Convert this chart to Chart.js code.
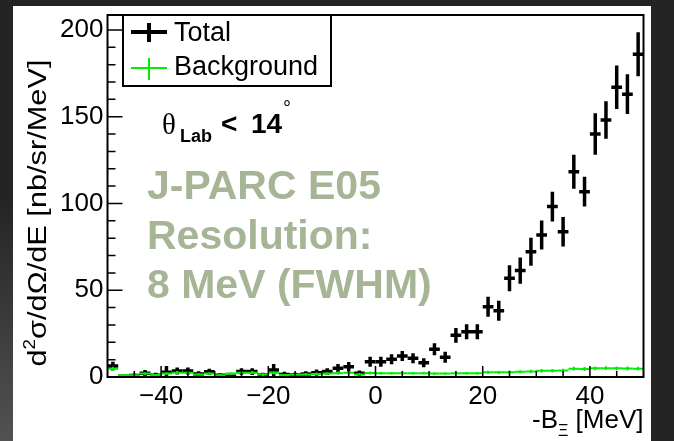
<!DOCTYPE html>
<html>
<head>
<meta charset="utf-8">
<script src="https://cdn.jsdelivr.net/npm/chart.js@4.4.1/dist/chart.umd.min.js"></script>
<style>
  html, body { margin: 0; padding: 0; width: 674px; height: 441px; overflow: hidden; background: #242424; }
  #strip { position: absolute; left: 0; top: 0; width: 13px; height: 441px; background: linear-gradient(#242424 45%, #525252); }
  #sheet { position: absolute; left: 13px; top: 6px; width: 638px; height: 435px; background: #fff; }
  #plot { position: absolute; left: 0; top: 0; }
</style>
</head>
<body>
<div id="strip"></div>
<div id="sheet"></div>
<canvas id="plot" width="674" height="441"></canvas>
<script>
// 2 MeV bins from -50 to 50
const binCenters = [-49, -47, -45, -43, -41, -39, -37, -35, -33, -31, -29, -27, -25, -23, -21, -19, -17, -15, -13, -11, -9, -7, -5, -3, -1,
                    1, 3, 5, 7, 9, 11, 13, 15, 17, 19, 21, 23, 25, 27, 29, 31, 33, 35, 37, 39, 41, 43, 45, 47, 49];
const binHalfWidth = 1;

// total spectrum (nb/sr/MeV) and its errors
const totalValues = [6.3, 0.5, 0.8, 2.2, 1.0, 2.8, 3.5, 3.5, 1.8, 3.0, 1.0, 0.5, 3.1, 3.1, 1.2, 4.0, 1.5, 1.2, 1.8, 2.5, 3.1, 5.0, 5.9, 2.1, 8.8,
                     8.8, 10.2, 12.1, 10.8, 8.2, 16.0, 11.4, 24.0, 26.1, 26.1, 40.5, 38.2, 56.9, 61.3, 72.2, 81.8, 98.2, 83.7, 118.3, 106.8, 140.0, 148.1, 167.0, 163.0, 186.0];
const totalErrors = [2.5, 1.0, 1.2, 1.8, 1.5, 3.5, 2.0, 2.0, 1.5, 1.8, 1.2, 1.0, 2.0, 2.0, 1.2, 3.5, 1.5, 1.2, 1.5, 1.8, 2.0, 2.5, 2.8, 1.6, 2.9,
                     2.9, 2.9, 2.9, 2.9, 2.6, 3.5, 3.2, 4.3, 4.3, 4.3, 5.8, 5.8, 7.5, 7.5, 8.1, 8.4, 8.6, 8.5, 9.8, 8.6, 12.0, 10.8, 12.5, 11.5, 12.7];

// background estimate
const bgValues = [4.7, 1.0, 1.0, 2.0, 1.2, 2.0, 2.5, 2.5, 1.5, 2.0, 1.0, 2.0, 2.5, 2.5, 1.4, 2.4, 1.2, 1.3, 1.5, 1.8, 2.0, 2.2, 2.5, 1.5, 2.3,
                  2.1, 2.1, 2.2, 2.1, 2.2, 2.0, 2.0, 2.2, 2.1, 2.1, 2.7, 2.7, 2.8, 3.0, 3.2, 3.6, 3.6, 3.7, 4.8, 4.6, 5.0, 5.1, 5.0, 4.9, 4.8];
const bgErrors = [1.2, 0.7, 0.7, 0.8, 0.7, 0.8, 0.9, 0.9, 0.8, 0.8, 0.7, 0.8, 0.9, 0.9, 0.8, 0.9, 0.7, 0.7, 0.8, 0.8, 0.8, 0.9, 0.9, 0.8, 0.9,
                  0.8, 0.8, 0.8, 0.8, 0.8, 0.8, 0.8, 0.8, 0.8, 0.8, 0.9, 0.9, 0.9, 0.9, 1.0, 1.0, 1.0, 1.0, 1.1, 1.1, 1.1, 1.1, 1.1, 1.1, 1.1];

const xTickValues = [-40, -20, 0, 20, 40];
const yTickValues = [0, 50, 100, 150, 200];

const FONT = "'Liberation Sans', Arial, Helvetica, sans-serif";

function fmtTick(v) {
    return v < 0 ? '\u2212' + Math.abs(v) : String(v);
}

// ROOT style error crosses: horizontal bar over the bin, vertical bar for the error
const errorCrosses = {
    id: 'errorCrosses',
    afterDatasetsDraw(chart) {
        const { ctx, chartArea, scales: { x, y } } = chart;
        ctx.save();
        ctx.beginPath();
        ctx.rect(chartArea.left, chartArea.top, chartArea.right - chartArea.left, chartArea.bottom - chartArea.top);
        ctx.clip();
        chart.data.datasets.forEach((ds, di) => {
            const meta = chart.getDatasetMeta(di);
            ctx.strokeStyle = ds.borderColor;
            ctx.lineWidth = ds.borderWidth;
            ctx.lineCap = 'butt';
            meta.data.forEach((pt, i) => {
                const c = ds.data[i].x;
                const v = ds.data[i].y;
                const e = ds.errors[i];
                const xl = x.getPixelForValue(c - binHalfWidth);
                const xr = x.getPixelForValue(c + binHalfWidth);
                ctx.beginPath();
                ctx.moveTo(xl, pt.y);
                ctx.lineTo(xr, pt.y);
                ctx.moveTo(pt.x, y.getPixelForValue(v + e));
                ctx.lineTo(pt.x, y.getPixelForValue(Math.max(v - e, 0)));
                ctx.stroke();
            });
        });
        ctx.restore();
    }
};

// frame, inward ticks, legend and the text labels
const frameAndText = {
    id: 'frameAndText',
    afterDraw(chart) {
        const { ctx, chartArea: a, scales: { x, y } } = chart;
        ctx.save();

        // ticks on the bottom and left axes
        ctx.strokeStyle = '#000';
        ctx.lineWidth = 1.5;
        ctx.beginPath();
        for (let v = -45; v <= 45; v += 5) {
            const px = x.getPixelForValue(v);
            const len = v % 20 === 0 ? 11 : 6;
            ctx.moveTo(px, a.bottom);
            ctx.lineTo(px, a.bottom - len);
        }
        for (let v = 10; v <= 200; v += 10) {
            const py = y.getPixelForValue(v);
            const len = v % 50 === 0 ? 15 : 8;
            ctx.moveTo(a.left, py);
            ctx.lineTo(a.left + len, py);
        }
        ctx.stroke();

        ctx.lineWidth = 2;
        ctx.strokeRect(a.left, a.top, a.right - a.left, a.bottom - a.top);

        // legend
        ctx.fillStyle = '#fff';
        ctx.fillRect(123, 15, 208, 71);
        ctx.strokeRect(123, 15, 208, 71);
        ctx.strokeStyle = '#000';
        ctx.lineWidth = 4;
        ctx.beginPath();
        ctx.moveTo(131, 32); ctx.lineTo(167, 32);
        ctx.moveTo(149, 23); ctx.lineTo(149, 42);
        ctx.stroke();
        ctx.strokeStyle = '#00ee00';
        ctx.lineWidth = 2;
        ctx.beginPath();
        ctx.moveTo(131, 68); ctx.lineTo(167, 68);
        ctx.moveTo(149, 58); ctx.lineTo(149, 80);
        ctx.stroke();

        ctx.fillStyle = '#000';
        ctx.textAlign = 'left';
        ctx.textBaseline = 'alphabetic';
        ctx.font = `27px ${FONT}`;
        ctx.fillText('Total', 174, 41);
        ctx.fillText('Background', 174, 75);

        // angle cut
        ctx.font = "29px 'Liberation Serif', 'Times New Roman', serif";
        ctx.fillText('\u03b8', 162, 134);
        ctx.font = `bold 18px ${FONT}`;
        ctx.fillText('Lab', 180, 142);
        ctx.font = `bold 28px ${FONT}`;
        ctx.fillText('<', 221, 133);
        ctx.fillText('14', 251, 133);
        ctx.font = `20px ${FONT}`;
        ctx.fillText('\u00b0', 283, 115);

        // experiment note
        ctx.fillStyle = '#a7b597';
        ctx.font = `bold 41px ${FONT}`;
        ctx.fillText('J-PARC E05', 147, 199);
        ctx.fillText('Resolution:', 147, 249);
        ctx.fillText('8 MeV (FWHM)', 147, 298);

        // x axis title, right aligned to the frame
        ctx.fillStyle = '#000';
        ctx.font = `26px ${FONT}`;
        const wB = ctx.measureText('-B').width;
        const wU = ctx.measureText(' [MeV]').width;
        ctx.font = `16px ${FONT}`;
        const wX = ctx.measureText('\u039e').width;
        let tx = a.right - (wB + wX + wU);
        ctx.font = `26px ${FONT}`;
        ctx.fillText('-B', tx, 428);
        tx += wB;
        ctx.font = `16px ${FONT}`;
        ctx.fillText('\u039e', tx, 436);
        tx += wX;
        ctx.font = `26px ${FONT}`;
        ctx.fillText(' [MeV]', tx, 428);

        // y axis title
        ctx.translate(37, 213);
        ctx.rotate(-Math.PI / 2);
        ctx.font = `26px ${FONT}`;
        const w1 = ctx.measureText('d').width;
        const w3 = ctx.measureText('\u03c3/d\u03a9/dE [nb/sr/MeV]').width;
        ctx.font = `16px ${FONT}`;
        const w2 = ctx.measureText('2').width;
        const total = w1 + w2 + w3;
        ctx.scale(307 / total, 1);
        let ty = -total / 2;
        ctx.font = `26px ${FONT}`;
        ctx.fillText('d', ty, 9);
        ty += w1;
        ctx.font = `16px ${FONT}`;
        ctx.fillText('2', ty, -2);
        ty += w2;
        ctx.font = `26px ${FONT}`;
        ctx.fillText('\u03c3/d\u03a9/dE [nb/sr/MeV]', ty, 9);

        ctx.restore();
    }
};

const ctx = document.getElementById('plot').getContext('2d');

new Chart(ctx, {
    type: 'scatter',
    data: {
        datasets: [{
            label: 'Total',
            data: binCenters.map((c, i) => ({ x: c, y: totalValues[i] })),
            errors: totalErrors,
            borderColor: '#000',
            backgroundColor: '#000',
            borderWidth: 3.5,
            pointRadius: 0,
            showLine: false
        }, {
            label: 'Background',
            data: binCenters.map((c, i) => ({ x: c, y: bgValues[i] })),
            errors: bgErrors,
            borderColor: '#00ee00',
            backgroundColor: '#00ee00',
            borderWidth: 2,
            pointRadius: 0,
            showLine: false
        }]
    },
    options: {
        responsive: false,
        animation: false,
        devicePixelRatio: 1,
        layout: { padding: { top: 15, right: 30.5, left: 0, bottom: 0 } },
        plugins: {
            legend: { display: false },
            tooltip: { enabled: false }
        },
        scales: {
            x: {
                type: 'linear',
                min: -50,
                max: 50,
                grid: { display: false, drawTicks: false },
                border: { display: false },
                ticks: {
                    color: '#000',
                    font: { family: FONT, size: 26, lineHeight: 1.2 },
                    padding: 4,
                    maxRotation: 0,
                    autoSkip: false,
                    callback: v => fmtTick(v)
                },
                afterBuildTicks: s => { s.ticks = xTickValues.map(v => ({ value: v })); },
                afterFit: s => { s.height = 64; s.paddingLeft = 0; s.paddingRight = 0; }
            },
            y: {
                type: 'linear',
                min: 0,
                max: 208.6,
                grid: { display: false, drawTicks: false },
                border: { display: false },
                ticks: {
                    color: '#000',
                    font: { family: FONT, size: 26, lineHeight: 1.2 },
                    padding: 4,
                    autoSkip: false,
                    callback: v => fmtTick(v)
                },
                afterBuildTicks: s => { s.ticks = yTickValues.map(v => ({ value: v })); },
                afterFit: s => { s.width = 107.5; s.paddingTop = 0; s.paddingBottom = 0; }
            }
        }
    },
    plugins: [errorCrosses, frameAndText]
});
</script>
</body>
</html>
